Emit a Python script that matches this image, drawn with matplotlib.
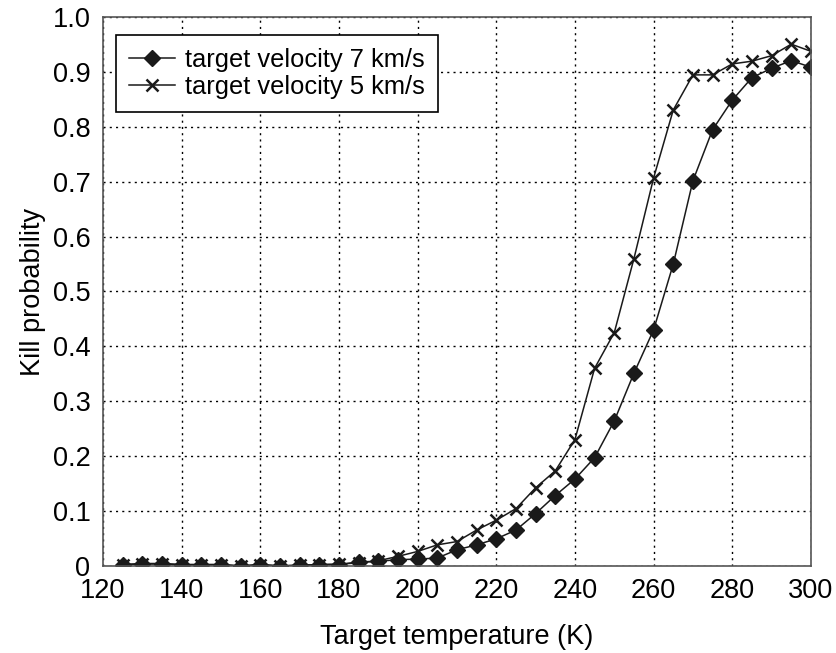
import numpy as np
import matplotlib
matplotlib.use('Agg')
import matplotlib.pyplot as plt

plt.rcParams['font.family'] = ['Liberation Sans', 'DejaVu Sans']

# target temperature (K)
temps = np.arange(125, 301, 5)

# kill probability, target velocity 7 km/s
kp_7 = [0.002, 0.004, 0.004, 0.002, 0.002, 0.002, -0.001, 0.002, -0.001, 0.001,
        0.002, 0.002, 0.007, 0.008, 0.011, 0.012, 0.014, 0.029, 0.038, 0.049,
        0.065, 0.095, 0.128, 0.158, 0.197, 0.264, 0.351, 0.430, 0.550, 0.702,
        0.795, 0.849, 0.890, 0.907, 0.921, 0.909]

# kill probability, target velocity 5 km/s
kp_5 = [0.002, 0.003, 0.003, 0.002, 0.002, 0.002, 0.000, 0.002, 0.000, 0.001,
        0.002, 0.003, 0.005, 0.009, 0.017, 0.026, 0.038, 0.044, 0.065, 0.083,
        0.104, 0.142, 0.173, 0.230, 0.360, 0.425, 0.560, 0.707, 0.831, 0.895,
        0.895, 0.915, 0.920, 0.930, 0.951, 0.938]

xticks = np.arange(120, 301, 20)
yticks = np.arange(0, 1.01, 0.1)
ytick_labels = ['0'] + ['%.1f' % v for v in yticks[1:]]

fig = plt.figure(figsize=(8.36, 6.53), dpi=100)
ax = fig.add_axes([0.1232, 0.1337, 0.8468, 0.8398])

ax.plot(temps, kp_7, color='#1a1a1a', lw=1.1, marker='D', ms=8,
        label='target velocity 7 km/s')
ax.plot(temps, kp_5, color='#1a1a1a', lw=1.1, marker='x', ms=8, mew=1.8,
        label='target velocity 5 km/s')

ax.set_xlim(120, 300)
ax.set_ylim(0, 1.0)
ax.set_xticks(xticks)
ax.set_yticks(yticks)
ax.set_yticklabels(ytick_labels)
ax.tick_params(length=0, labelsize=19.5)
ax.tick_params(axis='y', pad=9)
ax.tick_params(axis='x', pad=9)
ax.grid(True, color='black', linestyle=(0, (1.5, 3)), linewidth=1)
for s in ax.spines.values():
    s.set_color('#555555')
    s.set_linewidth(1.2)

ax.set_xlabel('Target temperature (K)', fontsize=19.5, labelpad=14)
ax.set_ylabel('Kill probability', fontsize=19.5, labelpad=5)

leg = ax.legend(loc='upper left', bbox_to_anchor=(0.019, 0.967), borderaxespad=0,
                fontsize=18.4, fancybox=False, framealpha=1, edgecolor='black',
                handlelength=1.8, handletextpad=0.4, borderpad=0.5,
                labelspacing=0.1)
leg.get_frame().set_linewidth(1.2)

fig.savefig('out.png', dpi=100)
